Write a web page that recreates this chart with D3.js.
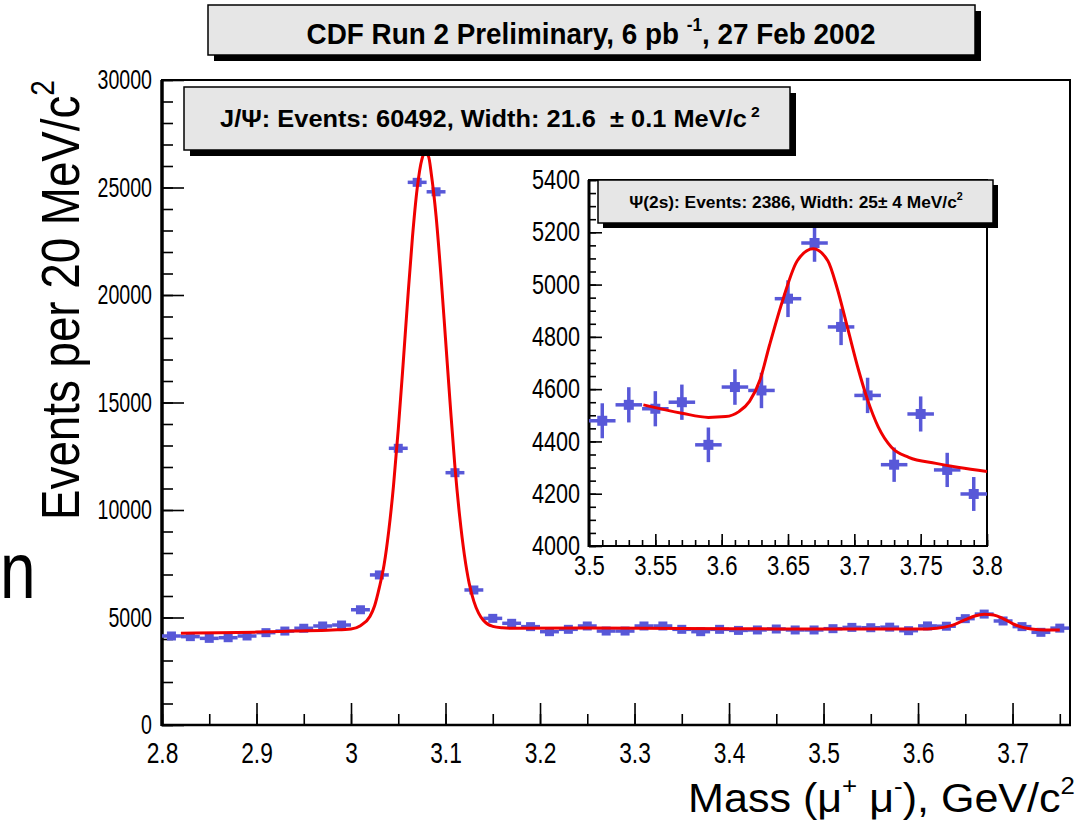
<!DOCTYPE html>
<html><head><meta charset="utf-8">
<script src="https://cdn.jsdelivr.net/npm/d3@7"></script>
<style>
html,body{margin:0;padding:0;background:#fff;}
svg{display:block;font-family:"Liberation Sans",Arial,Helvetica,sans-serif;}
</style></head><body>
<svg id="c" width="1088" height="827"></svg>
<script>
// ---------------- data ----------------
const binMass = [2.81,2.83,2.85,2.87,2.89,2.91,2.93,2.95,2.97,2.99,
  3.01,3.03,3.05,3.07,3.09,3.11,3.13,3.15,3.17,3.19,
  3.21,3.23,3.25,3.27,3.29,3.31,3.33,3.35,3.37,3.39,
  3.41,3.43,3.45,3.47,3.49,3.51,3.53,3.55,3.57,3.59,
  3.61,3.63,3.65,3.67,3.69,3.71,3.73,3.75];
const binCounts = [4140,4110,4030,4060,4140,4295,4370,4500,4605,4650,
  5360,6980,12870,25240,24800,11735,6280,4960,4730,4575,
  4340,4450,4605,4370,4370,4605,4605,4450,4340,4450,
  4400,4420,4465,4420,4420,4480,4540,4525,4550,4387,
  4608,4595,4946,5159,4838,4576,4311,4505];
const fitMass = [2.82,2.86,2.90,2.94,2.98,3.00,3.01,3.02,3.025,3.03,3.035,3.04,3.045,3.05,3.055,3.06,3.065,3.07,3.075,3.0785,
  3.082,3.085,3.09,3.095,3.10,3.105,3.11,3.115,3.12,3.125,3.13,3.135,3.14,3.145,3.15,3.16,3.17,3.25,3.35,3.45,3.55,3.60,
  3.62,3.635,3.65,3.66,3.67,3.68,3.69,3.70,3.71,3.72,3.735,3.75];
const fitCounts = [4270,4290,4320,4370,4420,4470,4620,5050,5550,6400,7450,9050,11150,13750,16700,19800,22680,24950,26310,26600,
  26450,25620,23680,21000,17960,14890,12000,9700,7900,6600,5750,5200,4870,4680,4590,4520,4500,4510,4490,4470,4460,4460,
  4500,4620,4900,5070,5150,5120,4950,4720,4550,4460,4420,4420];

const insetMass = [3.51,3.53,3.55,3.57,3.59,3.61,3.63,3.65,3.67,3.69,3.71,3.73,3.75,3.77,3.79];
const insetCounts = [4479,4540,4525,4550,4387,4608,4595,4946,5159,4838,4576,4311,4505,4291,4199];
const insetFitMass = [3.541,3.570,3.590,3.603,3.613,3.621,3.629,3.636,3.6465,3.657,3.669,3.680,3.687,3.695,3.703,3.710,3.718,3.728,3.741,3.7615,3.779,3.80];
const insetFitCounts = [4540,4508,4492,4495,4514,4553,4637,4767,4948,5091,5137,5091,4987,4832,4676,4559,4456,4378,4339,4316,4300,4285];

const mainXTicks = [2.8,2.9,3.0,3.1,3.2,3.3,3.4,3.5,3.6,3.7];
const mainYTicks = [0,5000,10000,15000,20000,25000,30000];
const insetXTicks = [3.5,3.55,3.6,3.65,3.7,3.75,3.8];
const insetYTicks = [4000,4200,4400,4600,4800,5000,5200,5400];
const binHalfWidth = 0.01;

const titleText = "CDF Run 2 Preliminary, 6 pb ";
const jpsiText = "J/\u03A8: Events: 60492, Width: 21.6  \u00B1 0.1 MeV/c";
const psi2sText = "\u03A8(2s): Events: 2386, Width: 25\u00B1 4 MeV/c";

// ---------------- layout ----------------
const svg = d3.select("#c");
const BLUE = "#5858d8", RED = "#f00000";
const x = d3.scaleLinear().domain([2.8, 3.7608]).range([162, 1070]);
const y = d3.scaleLinear().domain([0, 30000]).range([725, 80]);
const xi = d3.scaleLinear().domain([3.5, 3.8]).range([589, 987]);
const yi = d3.scaleLinear().domain([4000, 5400]).range([546, 180]);

function squeeze(sel, k) {
  sel.each(function () {
    const t = d3.select(this);
    const xx = +t.attr("x") || 0;
    t.attr("x", xx / k).attr("transform", `scale(${k},1)`);
  });
}
function fitWidth(t, target) {
  const w = t.node().getBBox().width;
  t.attr("transform", `scale(${target / w},1)`);
}

// ---------------- main axes ----------------
const gm = svg.append("g");
const fmt = d => String(+d.toFixed(2));

gm.append("g").attr("transform", "translate(162,0)")
  .call(d3.axisLeft(y).tickValues(d3.range(0, 30001, 1000)).tickSize(-11).tickFormat(""));
const yMajor = gm.append("g").attr("transform", "translate(162,0)")
  .call(d3.axisLeft(y).tickValues(mainYTicks).tickSize(-22).tickPadding(10).tickFormat(d3.format("d")));
gm.append("g").attr("transform", "translate(0,725)")
  .call(d3.axisBottom(x).tickValues(d3.range(2.8, 3.76, 0.05)).tickSize(-11).tickFormat(""));
const xMajor = gm.append("g").attr("transform", "translate(0,725)")
  .call(d3.axisBottom(x).tickValues(mainXTicks).tickSize(-22).tickPadding(17).tickFormat(fmt));
gm.selectAll(".domain").remove();
gm.selectAll(".tick line").attr("stroke", "#000").attr("stroke-width", 1.6);
gm.selectAll(".tick text").attr("fill", "#000")
  .attr("font-family", "'Liberation Sans',Arial,sans-serif");
yMajor.selectAll("text").attr("font-size", 28);
xMajor.selectAll("text").attr("font-size", 30);
squeeze(yMajor.selectAll("text"), 0.7);
squeeze(xMajor.selectAll("text"), 0.76);

// frame
gm.append("rect").attr("x", 162).attr("y", 80).attr("width", 908).attr("height", 645)
  .attr("fill", "none").attr("stroke", "#000").attr("stroke-width", 2);
gm.append("line").attr("x1", 162).attr("x2", 162).attr("y1", 80).attr("y2", 726)
  .attr("stroke", "#000").attr("stroke-width", 3.5);
gm.append("line").attr("x1", 161).attr("x2", 1071).attr("y1", 725).attr("y2", 725)
  .attr("stroke", "#000").attr("stroke-width", 2.5);

// main points
const pts = gm.append("g");
binMass.forEach((m, i) => {
  const c = binCounts[i], e = Math.sqrt(c);
  pts.append("line").attr("x1", x(m - binHalfWidth)).attr("x2", x(m + binHalfWidth))
    .attr("y1", y(c)).attr("y2", y(c)).attr("stroke", BLUE).attr("stroke-width", 3.5);
  pts.append("line").attr("x1", x(m)).attr("x2", x(m))
    .attr("y1", y(c - e)).attr("y2", y(c + e)).attr("stroke", BLUE).attr("stroke-width", 3.5);
  pts.append("rect").attr("x", x(m) - 4.5).attr("y", y(c) - 4.5).attr("width", 9).attr("height", 9)
    .attr("fill", BLUE);
});
// main fit
gm.append("path").datum(fitMass.map((m, i) => [m, fitCounts[i]]))
  .attr("d", d3.line().x(d => x(d[0])).y(d => y(d[1])).curve(d3.curveMonotoneX))
  .attr("fill", "none").attr("stroke", RED).attr("stroke-width", 3);

// ---------------- inset ----------------
const gi = svg.append("g");
gi.append("rect").attr("x", 589).attr("y", 180).attr("width", 398).attr("height", 366).attr("fill", "#fff");
gi.append("g").attr("transform", "translate(589,0)")
  .call(d3.axisLeft(yi).tickValues(d3.range(4000, 5401, 50)).tickSize(-7).tickFormat(""));
const yiMaj = gi.append("g").attr("transform", "translate(589,0)")
  .call(d3.axisLeft(yi).tickValues(insetYTicks).tickSize(-13).tickPadding(9).tickFormat(d3.format("d")));
gi.append("g").attr("transform", "translate(0,546)")
  .call(d3.axisBottom(xi).tickValues(d3.range(3.5, 3.8001, 0.01)).tickSize(-6).tickFormat(""));
const xiMaj = gi.append("g").attr("transform", "translate(0,546)")
  .call(d3.axisBottom(xi).tickValues(insetXTicks).tickSize(-12).tickPadding(10).tickFormat(fmt));
gi.selectAll(".domain").remove();
gi.selectAll(".tick line").attr("stroke", "#000").attr("stroke-width", 1.6);
gi.selectAll(".tick text").attr("font-size", 27).attr("fill", "#000")
  .attr("font-family", "'Liberation Sans',Arial,sans-serif");
squeeze(yiMaj.selectAll("text"), 0.8);
squeeze(xiMaj.selectAll("text"), 0.82);
gi.append("rect").attr("x", 589).attr("y", 180).attr("width", 398).attr("height", 366)
  .attr("fill", "none").attr("stroke", "#000").attr("stroke-width", 2);
gi.append("line").attr("x1", 589).attr("x2", 589).attr("y1", 180).attr("y2", 547)
  .attr("stroke", "#000").attr("stroke-width", 3);

const ipts = gi.append("g");
insetMass.forEach((m, i) => {
  const c = insetCounts[i], e = Math.sqrt(c);
  ipts.append("line").attr("x1", xi(m - binHalfWidth)).attr("x2", xi(m + binHalfWidth))
    .attr("y1", yi(c)).attr("y2", yi(c)).attr("stroke", BLUE).attr("stroke-width", 3.5);
  ipts.append("line").attr("x1", xi(m)).attr("x2", xi(m))
    .attr("y1", yi(c - e)).attr("y2", yi(c + e)).attr("stroke", BLUE).attr("stroke-width", 3.5);
  ipts.append("rect").attr("x", xi(m) - 5).attr("y", yi(c) - 5).attr("width", 10).attr("height", 10)
    .attr("fill", BLUE);
});
gi.append("path").datum(insetFitMass.map((m, i) => [m, insetFitCounts[i]]))
  .attr("d", d3.line().x(d => xi(d[0])).y(d => yi(d[1])).curve(d3.curveMonotoneX))
  .attr("fill", "none").attr("stroke", RED).attr("stroke-width", 3);

// ---------------- boxes ----------------
function box(x0, y0, x1, y1, s) {
  svg.append("rect").attr("x", x0 + s).attr("y", y0 + s).attr("width", x1 - x0).attr("height", y1 - y0).attr("fill", "#000");
  svg.append("rect").attr("x", x0).attr("y", y0).attr("width", x1 - x0).attr("height", y1 - y0)
    .attr("fill", "#e6e6e6").attr("stroke", "#000").attr("stroke-width", 1.5);
}
function label(cx, by, size, weight, parts, target, anchor) {
  const g = svg.append("g").attr("transform", `translate(${cx},${by})`);
  const t = g.append("text").attr("text-anchor", anchor || "middle").attr("font-size", size)
    .attr("font-weight", weight).attr("fill", "#000").attr("xml:space", "preserve");
  parts.forEach(p => {
    const ts = t.append("tspan").text(p.t);
    if (p.sup) ts.attr("font-size", size * 0.62).attr("dy", -size * 0.45);
    if (p.down) ts.attr("dy", size * 0.45);
  });
  if (target) fitWidth(t, target);
  return g;
}

box(208, 5, 975, 55, 6);
label(591, 44, 29, "bold", [{t: titleText}, {t: "-1", sup: true}, {t: ", 27 Feb 2002", down: true}], 569);

box(184, 87, 790, 150, 6);
label(490, 127, 23, "bold", [{t: jpsiText}, {t: " 2", sup: true}], 540);

box(598, 180, 993, 223, 5);
label(796, 208, 17, "bold", [{t: psi2sText}, {t: "2", sup: true}], 334);

// axis titles
const yt = svg.append("g").attr("transform", "translate(79,300) rotate(-90)");
const ytt = yt.append("text").attr("text-anchor", "middle").attr("font-size", 54).attr("fill", "#000");
ytt.append("tspan").text("Events per 20 MeV/c");
ytt.append("tspan").text("2").attr("font-size", 33).attr("dy", -25);
fitWidth(ytt, 440);

const xt = svg.append("g").attr("transform", "translate(1075,812)");
const xtt = xt.append("text").attr("text-anchor", "end").attr("font-size", 40).attr("fill", "#000");
xtt.append("tspan").text("Mass (\u03BC");
xtt.append("tspan").text("+").attr("font-size", 24).attr("dy", -18);
xtt.append("tspan").text(" \u03BC").attr("dy", 18);
xtt.append("tspan").text("-").attr("font-size", 24).attr("dy", -18);
xtt.append("tspan").text("), GeV/c").attr("dy", 18);
xtt.append("tspan").text("2").attr("font-size", 24).attr("dy", -18);
fitWidth(xtt, 387);

const ng = svg.append("g").attr("transform", "translate(0,598)");
ng.append("text").attr("font-size", 80).attr("fill", "#000").text("n").attr("transform", "scale(0.8,1)");
</script>
</body></html>
